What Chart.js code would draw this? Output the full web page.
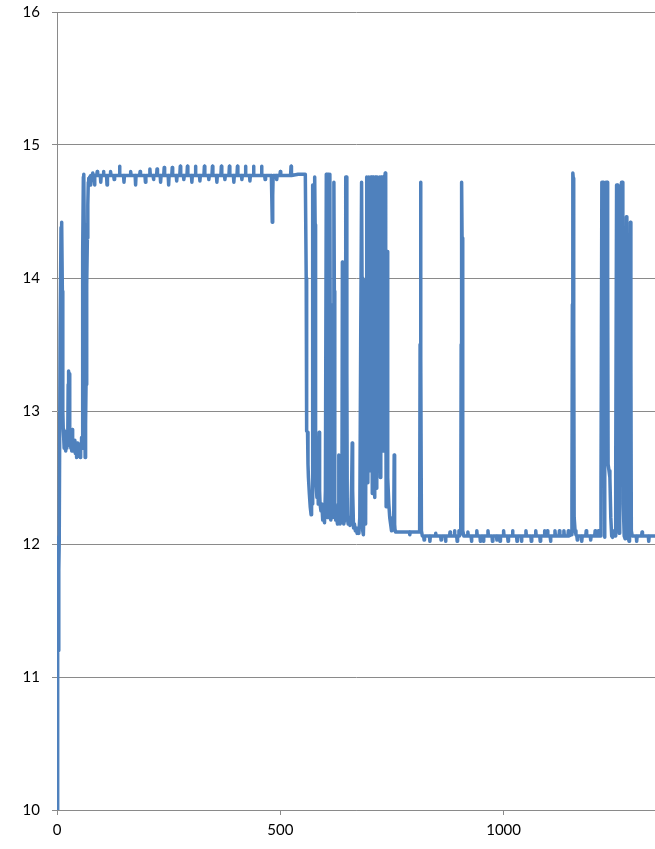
<!DOCTYPE html>
<html>
<head>
<meta charset="utf-8">
<script src="https://cdn.jsdelivr.net/npm/chart.js@4/dist/chart.umd.min.js"></script>
<style>
  html, body { margin: 0; padding: 0; background: #ffffff; }
  #wrap { width: 655px; height: 849px; }
</style>
</head>
<body>
<div id="wrap"><canvas id="c" width="655" height="849"></canvas></div>
<script>
// ---- data: [sample index, value] ----
const startup = [
  [0,10.0],[1,10.9],[2,12.05],[3,11.2],[4,11.8],[5,12.02],[7,13.6],[9,14.38],[10,14.42],[11,14.4],
  [12,13.9],[13,13.0],[14,12.86],[15,12.8],[16,12.72],[17,12.85],[18,12.74],[19,12.8],[20,12.7],[21,12.83],
  [22,12.72],[23,12.78],[24,12.74],[25,13.2],[26,13.3],[27,12.9],[28,13.28],[29,12.76],[30,12.85],[31,12.72],
  [32,12.8],[33,12.7],[34,12.86],[35,12.74],[36,12.78],[37,12.7],[38,12.75],[39,12.72],[40,12.78],[41,12.68],
  [42,12.74],[43,12.72],[44,12.65],[45,12.76],[46,12.72],[47,12.74],[48,12.66],[49,12.74],[50,12.72],[51,12.75],
  [52,12.65],[53,12.74],[54,12.72],[55,12.8],[56,12.72],[57,12.95],[58,14.2],[59,14.76],[60,14.78],[61,14.4],
  [62,13.1],[63,12.65],[64,12.9],[65,13.2],[66,13.6],[67,13.95],[68,14.3],[69,14.55],[70,14.72],[71,14.75],
  [72,14.7],[73,14.76],[74,14.74]
];
const highPlateau = [
  [75,14.77],[76,14.7],[77,14.77],[79,14.77],[80,14.79],[81,14.77],[83,14.77],[84,14.7],[85,14.77],[89,14.77],
  [90,14.8],[91,14.77],[97,14.77],[98,14.72],[99,14.77],[103,14.77],[104,14.8],[105,14.77],[111,14.77],[112,14.7],
  [113,14.77],[119,14.77],[120,14.8],[121,14.77],[127,14.77],[128,14.74],[129,14.77],[139,14.77],[140,14.84],[141,14.77],
  [149,14.77],[150,14.72],[151,14.77],[164,14.77],[165,14.8],[166,14.77],[175,14.77],[176,14.7],[177,14.77],[185,14.77],
  [186,14.8],[187,14.77],[197,14.77],[198,14.72],[199,14.77],[207,14.77],[208,14.82],[209,14.77],[215,14.77],[216,14.74],
  [217,14.77],[223,14.77],[224,14.82],[225,14.77],[231,14.77],[232,14.72],[233,14.77],[239,14.77],[240,14.83],[241,14.77],
  [249,14.77],[250,14.7],[251,14.77],[257,14.77],[258,14.83],[259,14.77],[267,14.77],[268,14.73],[269,14.77],[275,14.77],
  [276,14.84],[277,14.77],[283,14.77],[284,14.74],[285,14.77],[291,14.77],[292,14.84],[293,14.77],[301,14.77],[302,14.72],
  [303,14.77],[309,14.77],[310,14.84],[311,14.77],[319,14.77],[320,14.73],[321,14.77],[329,14.77],[330,14.84],[331,14.77],
  [339,14.77],[340,14.74],[341,14.77],[347,14.77],[348,14.84],[349,14.77],[357,14.77],[358,14.72],[359,14.77],[367,14.77],
  [368,14.84],[369,14.77],[375,14.77],[376,14.74],[377,14.77],[385,14.77],[386,14.84],[387,14.77],[395,14.77],[396,14.72],
  [397,14.77],[403,14.77],[404,14.84],[405,14.77],[413,14.77],[414,14.74],[415,14.77],[421,14.77],[422,14.84],[423,14.77],
  [431,14.77],[432,14.73],[433,14.77],[439,14.77],[440,14.84],[441,14.77],[457,14.77],[458,14.84],[459,14.77],[465,14.77],
  [466,14.74],[467,14.77],[480,14.77],[481,14.6],[482,14.42],[483,14.62],[484,14.77],[491,14.77],[492,14.74],[493,14.77],
  [499,14.77],[500,14.8],[501,14.77],[523,14.77],[524,14.84],[525,14.77],[540,14.78],[556,14.78]
];
const switching = [
  [557,14.78],[558,14.0],[559,12.85],[561,12.84],[562,12.6],[563,12.5],[565,12.38],[567,12.28],[569,12.22],[570,12.35],
  [571,12.3],[572,13.5],[573,14.7],[574,14.2],[575,12.8],[576,13.6],[577,14.76],[578,14.4],[579,12.6],[580,12.45],
  [582,12.35],[584,12.52],[585,12.3],[587,12.84],[588,12.4],[589,12.3],[591,12.25],[593,12.3],[595,12.18],[597,12.2],
  [599,12.16],[601,12.4],[603,14.78],[604,13.5],[605,12.2],[606,12.55],[607,14.78],[608,13.2],[609,12.2],[610,14.76],
  [611,14.78],[612,13.0],[613,12.18],[615,12.25],[617,12.2],[618,13.8],[620,14.72],[621,13.9],[622,12.3],[624,12.18],
  [626,12.2],[628,12.15],[630,12.3],[631,12.67],[632,12.4],[634,12.15],[636,12.2],[638,12.3],[639,14.12],[640,13.2],
  [641,12.3],[642,12.15],[645,12.2],[646,13.5],[647,14.76],[648,14.76],[649,13.3],[650,12.2],[652,12.15],[654,12.2],
  [656,12.14],[658,12.2],[660,12.5],[661,12.76],[662,12.4],[664,12.12],[666,12.15],[668,12.1],[670,12.12],[672,12.08],
  [674,12.12],[676,12.08],[678,12.2],[680,13.5],[682,14.72],[683,14.0],[684,12.3],[685,12.1],[686,12.07],[688,12.35],
  [689,13.98],[690,12.6],[691,12.15],[692,13.2],[693,14.7],[694,14.76],[695,13.0],[696,12.46],[697,13.5],[698,14.76],
  [699,14.5],[700,12.9],[701,12.55],[702,14.2],[703,14.76],[704,14.76],[705,13.6],[706,12.38],[707,12.8],[708,14.76],
  [709,14.5],[710,12.6],[711,12.35],[712,13.8],[713,14.76],[714,13.5],[715,12.42],[716,13.4],[717,14.76],[718,14.76],
  [719,13.8],[720,12.9],[721,14.4],[722,14.76],[723,13.0],[724,12.5],[725,14.76],[726,14.76],[727,13.6],[728,12.74],
  [729,14.0],[730,14.76],[731,13.9],[732,12.7],[733,13.8],[734,14.76],[735,14.79],[736,13.9],[737,12.28],[738,12.6],
  [739,14.2],[740,13.2],[741,12.5],[743,12.3],[745,12.2],[747,12.15],[749,12.1],[750,12.12],[752,12.2],[754,12.2],
  [755,12.67],[756,12.15],[757,12.1],[758,12.09]
];
const lowPlateau = [
  [760,12.09],[789,12.09],[790,12.07],[791,12.09],[812,12.09],[813,13.5],[814,14.72],[815,13.4],[816,12.1],[818,12.06],
  [821,12.06],[822,12.03],[823,12.06],[834,12.06],[835,12.02],[836,12.06],[847,12.06],[848,12.08],[849,12.06],[859,12.06],
  [860,12.03],[861,12.06],[869,12.06],[870,12.02],[871,12.06],[879,12.06],[880,12.09],[881,12.06],[889,12.06],[890,12.1],
  [891,12.06],[895,12.06],[896,12.02],[897,12.06],[899,12.06],[900,12.1],[901,12.06],[904,12.08],[905,13.5],[906,14.72],
  [907,14.3],[908,12.5],[909,12.1],[911,12.06],[919,12.06],[920,12.09],[921,12.06],[927,12.06],[928,12.02],[929,12.06],
  [939,12.06],[940,12.1],[941,12.06],[947,12.06],[948,12.02],[949,12.06],[954,12.06],[955,12.02],[956,12.06],[964,12.06],
  [965,12.1],[966,12.06],[974,12.06],[975,12.02],[976,12.06],[984,12.06],[985,12.03],[986,12.06],[991,12.06],[992,12.02],
  [993,12.06],[999,12.06],[1000,12.1],[1001,12.06],[1009,12.06],[1010,12.02],[1011,12.06],[1019,12.06],[1020,12.1],[1021,12.06],
  [1029,12.06],[1030,12.02],[1031,12.06],[1039,12.06],[1040,12.02],[1041,12.06],[1049,12.06],[1050,12.1],[1051,12.06],[1061,12.06],
  [1062,12.02],[1063,12.06],[1071,12.06],[1072,12.1],[1073,12.06],[1081,12.06],[1082,12.02],[1083,12.06],[1091,12.06],[1092,12.1],
  [1093,12.06],[1097,12.06],[1098,12.1],[1099,12.06],[1104,12.06],[1105,12.02],[1106,12.06],[1114,12.06],[1115,12.1],[1116,12.06],
  [1124,12.06],[1125,12.1],[1126,12.06],[1134,12.06],[1135,12.1],[1136,12.06],[1144,12.06],[1145,12.1],[1146,12.06],[1152,12.07],
  [1153,12.3],[1154,13.8],[1155,14.79],[1156,14.75],[1157,13.6],[1158,12.2],[1160,12.1],[1162,12.07],[1164,12.06],[1165,12.03],
  [1166,12.06],[1174,12.06],[1175,12.02],[1176,12.06],[1184,12.06],[1185,12.1],[1186,12.06],[1194,12.06],[1195,12.03],[1196,12.06],
  [1204,12.06],[1205,12.1],[1206,12.06],[1211,12.06],[1212,12.1],[1213,12.06],[1217,12.06],[1218,12.4],[1220,14.72],[1222,14.72],
  [1224,14.72],[1225,13.0],[1226,12.05],[1227,13.5],[1229,14.72],[1232,14.72],[1233,14.0],[1234,12.6],[1236,12.55],[1238,12.5],
  [1240,12.2],[1242,12.06],[1244,12.05],[1246,12.06],[1248,12.1],[1250,12.06],[1251,12.5],[1253,14.7],[1255,14.7],[1256,13.5],
  [1257,12.2],[1259,12.08],[1260,12.6],[1262,14.5],[1264,14.72],[1266,14.72],[1267,13.8],[1268,12.3],[1270,12.06],[1272,12.04],
  [1273,13.0],[1275,14.46],[1276,13.6],[1277,12.1],[1279,12.05],[1281,12.02],[1282,12.9],[1284,14.42],[1285,13.4],[1286,12.1],
  [1288,12.06],[1297,12.06],[1298,12.02],[1299,12.06],[1309,12.06],[1310,12.09],[1311,12.06],[1324,12.06],[1325,12.02],[1326,12.06],
  [1339,12.06]
];
const xTickValues = [0, 500, 1000];
const yTickValues = [10, 11, 12, 13, 14, 15, 16];
const xRange = [0, 1339];
const yRange = [10, 16];

// ---- chart ----
const points = [...startup, ...highPlateau, ...switching, ...lowPlateau].map(([x, y]) => ({ x, y }));
const GRID = '#8a8a8a';
const FONT = { family: 'Lato, "Liberation Sans", Arial, sans-serif', size: 15 };

new Chart(document.getElementById('c'), {
  type: 'line',
  data: {
    datasets: [{
      data: points,
      borderColor: '#4F81BD',
      borderWidth: 3.5,
      borderJoinStyle: 'round',
      borderCapStyle: 'round',
      pointRadius: 0,
      tension: 0,
      fill: false
    }]
  },
  options: {
    responsive: false,
    animation: false,
    events: [],
    layout: { padding: { top: 12, right: 0, left: 0, bottom: 0 } },
    plugins: { legend: { display: false }, tooltip: { enabled: false } },
    scales: {
      x: {
        type: 'linear',
        min: xRange[0],
        max: xRange[1],
        afterBuildTicks: s => { s.ticks = xTickValues.map(v => ({ value: v })); },
        afterFit: s => { s.height = 39; s.paddingLeft = 0; s.paddingRight = 0; },
        ticks: { color: '#000000', font: FONT, padding: 6, maxRotation: 0, callback: v => String(v) },
        grid: { drawOnChartArea: false, drawTicks: true, tickLength: 5, color: GRID },
        border: { display: true, color: GRID, width: 1 }
      },
      y: {
        type: 'linear',
        min: yRange[0],
        max: yRange[1],
        afterBuildTicks: s => { s.ticks = yTickValues.map(v => ({ value: v })); },
        afterFit: s => { s.width = 57; s.paddingTop = 0; s.paddingBottom = 0; },
        ticks: { color: '#000000', font: FONT, padding: 12, callback: v => String(v) },
        grid: { drawOnChartArea: true, drawTicks: true, tickLength: 5, color: GRID },
        border: { display: true, color: GRID, width: 1 }
      }
    }
  }
});
</script>
</body>
</html>
